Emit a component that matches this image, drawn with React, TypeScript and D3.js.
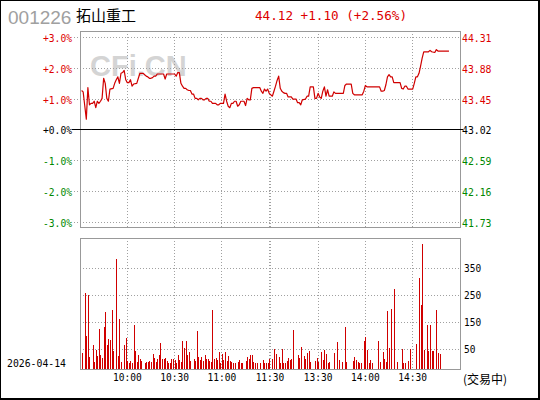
import React from 'react';
import * as d3 from 'd3';

const CODE = '001226';
const NAME = '拓山重工';
const DATE = '2026-04-14';
const STATUS = '(交易中)';
const PRE_CLOSE = 43.02;
const LAST = 44.12;
const CHANGE = 1.1;
const CHANGE_PCT = 2.56;

// minute index: 0 = 9:30, 120 = 11:30, 121 = 13:00, 241 = 15:00
const priceMinutes = [
  1, 2, 3, 4, 5, 6, 7, 8, 9, 10, 11, 12, 13, 14, 15, 16, 17, 18, 19, 21, 22, 23, 24, 25, 26, 27, 28, 29, 30, 31,
  32, 33, 34, 36, 37, 38, 40, 41, 42, 43, 44, 45, 46, 47, 48, 49, 53, 54, 55, 60, 61, 62, 63, 64, 65, 66, 67, 68,
  69, 70, 71, 72, 73, 74, 75, 76, 77, 78, 79, 80, 81, 82, 83, 84, 86, 87, 88, 89, 91, 92, 93, 94, 95, 96, 97, 98,
  99, 100, 101, 102, 104, 105, 106, 107, 108, 109, 110, 114, 115, 116, 117, 118, 119, 120,
  122, 123, 124, 125, 126, 127, 128, 129, 130, 131, 132, 134, 135, 137, 138, 139, 140, 141, 143, 144, 145, 146,
  148, 149, 150, 151, 152, 153, 154, 155, 156, 157, 158, 160, 161, 162, 167, 168, 169, 172, 173, 174, 179, 180,
  181, 182, 190, 191, 192, 193, 194, 195, 196, 197, 198, 199, 203, 204, 205, 206, 207, 208, 211, 212, 213, 214,
  215, 216, 217, 218, 221, 222, 223, 225, 226, 227, 234,
];
const prices = [
  43.57, 43.55, 43.36, 43.17, 43.61, 43.37, 43.39, 43.39, 43.42, 43.33, 43.42, 43.39, 43.42, 43.46, 43.74, 43.67,
  43.46, 43.42, 43.59, 43.6, 43.67, 43.72, 43.76, 43.67, 43.81, 43.82, 43.85, 43.72, 43.68, 43.68, 43.72, 43.63,
  43.66, 43.67, 43.74, 43.81, 43.81, 43.79, 43.77, 43.76, 43.74, 43.74, 43.75, 43.77, 43.77, 43.8, 43.8, 43.73,
  43.8, 43.8, 43.77, 43.82, 43.82, 43.67, 43.63, 43.6, 43.6, 43.58, 43.57, 43.57, 43.52, 43.52, 43.46, 43.46,
  43.44, 43.46, 43.46, 43.44, 43.44, 43.46, 43.46, 43.42, 43.42, 43.39, 43.39, 43.37, 43.37, 43.39, 43.39, 43.52,
  43.42, 43.35, 43.33, 43.39, 43.39, 43.42, 43.42, 43.35, 43.37, 43.42, 43.42, 43.36, 43.46, 43.44, 43.44, 43.6,
  43.61, 43.61, 43.56, 43.53, 43.59, 43.56, 43.59, 43.53,
  43.49, 43.56, 43.63, 43.71, 43.77, 43.6, 43.56, 43.54, 43.53, 43.53, 43.48, 43.48, 43.45, 43.45, 43.4, 43.4,
  43.37, 43.44, 43.45, 43.49, 43.49, 43.62, 43.62, 43.46, 43.46, 43.53, 43.48, 43.46, 43.56, 43.62, 43.49, 43.58,
  43.49, 43.49, 43.55, 43.53, 43.53, 43.64, 43.66, 43.66, 43.53, 43.51, 43.51, 43.56, 43.64, 43.62, 43.62, 43.56,
  43.56, 43.57, 43.65, 43.76, 43.79, 43.76, 43.76, 43.68, 43.68, 43.6, 43.59, 43.63, 43.63, 43.59, 43.59, 43.67,
  43.76, 43.76, 43.81, 43.91, 44.02, 44.11, 44.11, 44.13, 44.11, 44.1, 44.14, 44.12, 44.12,
];

const volMinutes = [
  1, 3, 4, 5, 6, 8, 9, 10, 11, 12, 13, 14, 15, 16, 17, 18, 19, 20, 21, 23, 24, 25, 26, 28, 29, 30, 31, 32, 33, 34,
  35, 36, 37, 38, 39, 41, 42, 43, 44, 45, 46, 47, 48, 49, 50, 51, 52, 53, 54, 55, 56, 57, 58, 59, 60, 61, 62, 63,
  64, 65, 66, 67, 68, 69, 70, 72, 73, 74, 75, 76, 77, 78, 79, 80, 81, 82, 83, 84, 85, 86, 87, 88, 89, 90, 91, 92,
  93, 94, 95, 96, 97, 98, 100, 101, 102, 103, 105, 106, 107, 108, 109, 110, 111, 112, 114, 116, 117, 118, 119, 120,
  122, 123, 124, 126, 127, 128, 129, 130, 131, 132, 133, 134, 135, 138, 139, 140, 142, 143, 144, 145, 146, 149,
  150, 151, 153, 154, 155, 156, 157, 158, 161, 163, 164, 166, 168, 169, 173, 174, 175, 176, 177, 178, 180, 181,
  182, 183, 184, 185, 189, 190, 192, 193, 194, 195, 196, 197, 199, 201, 204, 205, 206, 208, 209, 213, 215, 216,
  217, 218, 220, 221, 222, 223, 224, 226, 227, 228,
];
const volumes = [
  38, 259, 102, 250, 23, 67, 5, 48, 28, 128, 31, 20, 134, 189, 67, 89, 86, 196, 47, 385, 28, 163, 5, 67, 93, 7, 2,
  7, 1, 140, 47, 5, 31, 17, 7, 1, 4, 4, 10, 5, 34, 20, 5, 17, 30, 75, 16, 17, 20, 7, 1, 1, 16, 16, 11, 1, 31, 11,
  4, 81, 56, 82, 32, 42, 7, 16, 7, 118, 23, 12, 23, 8, 31, 16, 16, 8, 5, 198, 16, 20, 12, 42, 1, 34, 12, 42, 8,
  27, 8, 5, 1, 1, 5, 12, 1, 1, 8, 23, 16, 31, 31, 4, 1, 1, 1, 12, 1, 1, 1, 17,
  16, 53, 34, 23, 1, 53, 1, 1, 8, 20, 12, 16, 124, 31, 20, 60, 27, 16, 38, 45, 5, 8, 20, 5, 42, 12, 49, 34, 1, 5,
  38, 79, 12, 5, 134, 5, 8, 23, 12, 5, 1, 1, 82, 97, 49, 1, 12, 1, 82, 5, 42, 16, 5, 193, 56, 200, 274, 5, 53, 1,
  1, 8, 53, 71, 315, 215, 440, 49, 141, 45, 141, 45, 45, 196, 38, 34,
];

const pctTicks = [3, 2, 1, 0, -1, -2, -3];
const pctLabels = ['+3.0%', '+2.0%', '+1.0%', '+0.0%', '-1.0%', '-2.0%', '-3.0%'];
const priceLabels = ['44.31', '43.88', '43.45', '43.02', '42.59', '42.16', '41.73'];
const volTicks = [350, 250, 150, 50];
const timeTickMinutes = [30, 60, 90, 120, 151, 181, 211];
const timeTickLabels = ['10:00', '10:30', '11:00', '11:30', '13:30', '14:00', '14:30'];
const gridMinutes = [30, 60, 90, 120, 121, 151, 181, 211];

const RED = '#dd0000';
const LINE_RED = '#d00000';
const GREEN = '#008800';
const GRID = '#a0a0a0';
const BORDER = '#999999';
const MONO = '"DejaVu Sans Mono", "Liberation Mono", monospace';
const CJK = '"Noto Sans CJK SC", sans-serif';

const L = 80, R = 460;
const P_TOP = 31, P_BOT = 227;
const V_TOP = 238, V_BOT = 369;

function MText(props: { x: number; y: number; text: string; fill?: string; size?: number; cw?: number; anchor?: string }) {
  const { x, y, text, fill = '#000', size = 11, cw = 5.9, anchor = 'start' } = props;
  return (
    <text x={x} y={y} fill={fill} fontSize={size} fontFamily={MONO} textAnchor={anchor}
      textLength={text.length * cw} lengthAdjust="spacingAndGlyphs">{text}</text>
  );
}

export default function App() {
  const xS = d3.scaleLinear().domain([0, 241]).range([L, R]);
  const yP = d3.scaleLinear().domain([PRE_CLOSE * 0.97, PRE_CLOSE * 1.03]).range([222.4, 37.4]);
  const yV = d3.scaleLinear().domain([50, 350]).range([349.8, 268.2]);

  const pts: [number, number][] = priceMinutes.map((m, i) => [xS(m), yP(prices[i])]);
  const linePath = d3.line().curve(d3.curveLinear)(pts) || '';

  const crisp = (v: number) => Math.round(v) + 0.5;
  const header = `${LAST.toFixed(2)} +${CHANGE.toFixed(2)} (+${CHANGE_PCT.toFixed(2)}%)`;

  return (
    <svg width={540} height={400} style={{ position: 'absolute', left: 0, top: 0, background: '#fff' }}>
      <rect x={0} y={0} width={540} height={400} fill="#fff" />
      {/* header */}
      <text x={8} y={24} fill="#a0a0a0" fontSize={19} fontFamily='"Liberation Sans", Arial, sans-serif'>{CODE}</text>
      <text x={76} y={21} fill="#000" fontSize={15} fontFamily={CJK}>{NAME}</text>
      <text x={255} y={20} fill={RED} fontSize={13} fontFamily={MONO} textLength={152} lengthAdjust="spacingAndGlyphs">{header}</text>

      {/* watermark */}
      <text x={90} y={76} fill="#d4d4d4" fontSize={29} fontWeight="bold" fontFamily='"Liberation Sans", Arial, sans-serif'>CFi.CN</text>

      {/* price panel grid */}
      {pctTicks.map((p) => p !== 0 && (
        <line key={'hg' + p} x1={74} x2={R} y1={crisp(yP(PRE_CLOSE * (1 + p / 100)) - 0.5)} y2={crisp(yP(PRE_CLOSE * (1 + p / 100)) - 0.5)}
          stroke={GRID} strokeDasharray="1,2" shapeRendering="crispEdges" />
      ))}
      {gridMinutes.map((m) => (
        <line key={'vg' + m} x1={crisp(xS(m) - 0.5)} x2={crisp(xS(m) - 0.5)} y1={P_TOP} y2={P_BOT}
          stroke={GRID} strokeDasharray="1,2" shapeRendering="crispEdges" />
      ))}
      <rect x={L + 0.5} y={P_TOP + 0.5} width={R - L} height={P_BOT - P_TOP} fill="none" stroke={BORDER} shapeRendering="crispEdges" />
      <line x1={72} x2={463} y1={crisp(yP(PRE_CLOSE) - 0.5)} y2={crisp(yP(PRE_CLOSE) - 0.5)} stroke="#000" shapeRendering="crispEdges" />

      {/* price line */}
      <path d={linePath} fill="none" stroke={LINE_RED} strokeWidth={1.2} strokeLinejoin="round" />

      {/* axis labels */}
      {pctTicks.map((p, i) => {
        const y = yP(PRE_CLOSE * (1 + p / 100));
        const col = p > 0 ? RED : p < 0 ? GREEN : '#000';
        return (
          <g key={'pl' + p}>
            <MText x={72} y={y + 4.5} text={pctLabels[i]} fill={col} anchor="end" cw={5.8} />
            <MText x={462} y={y + 4.5} text={priceLabels[i]} fill={col} cw={5.9} />
          </g>
        );
      })}

      {/* volume panel grid */}
      {volTicks.map((v) => (
        <line key={'vh' + v} x1={L} x2={R} y1={crisp(yV(v) - 0.5)} y2={crisp(yV(v) - 0.5)}
          stroke={GRID} strokeDasharray="1,2" shapeRendering="crispEdges" />
      ))}
      {gridMinutes.map((m) => (
        <line key={'vv' + m} x1={crisp(xS(m) - 0.5)} x2={crisp(xS(m) - 0.5)} y1={V_TOP} y2={V_BOT}
          stroke={GRID} strokeDasharray="1,2" shapeRendering="crispEdges" />
      ))}
      {volMinutes.map((m, i) => {
        const top = yV(volumes[i]);
        return (
          <rect key={'b' + m} x={Math.round(xS(m))} y={top} width={1} height={V_BOT - top}
            fill={LINE_RED} shapeRendering="crispEdges" />
        );
      })}
      <rect x={L + 0.5} y={V_TOP + 0.5} width={R - L} height={V_BOT - V_TOP} fill="none" stroke={BORDER} shapeRendering="crispEdges" />
      {volTicks.map((v) => (
        <MText key={'vl' + v} x={464} y={yV(v) + 3.5} text={String(v)} cw={5.7} />
      ))}

      {/* time labels */}
      {timeTickMinutes.map((m, i) => (
        <MText key={'t' + m} x={xS(m) + (m === 120 ? 0.8 : 0)} y={381} text={timeTickLabels[i]} anchor="middle" cw={5.75} />
      ))}
      <MText x={7} y={367} text={DATE} cw={5.9} />
      <text x={463} y={383.5} fontSize={12} fontFamily={CJK} fill="#000">{STATUS}</text>

      {/* outer frame */}
      <rect x={0} y={0} width={540} height={1} fill="#000" />
      <rect x={0} y={0} width={1} height={400} fill="#000" />
      <rect x={538} y={0} width={2} height={400} fill="#000" />
      <rect x={0} y={398} width={540} height={2} fill="#000" />
    </svg>
  );
}
